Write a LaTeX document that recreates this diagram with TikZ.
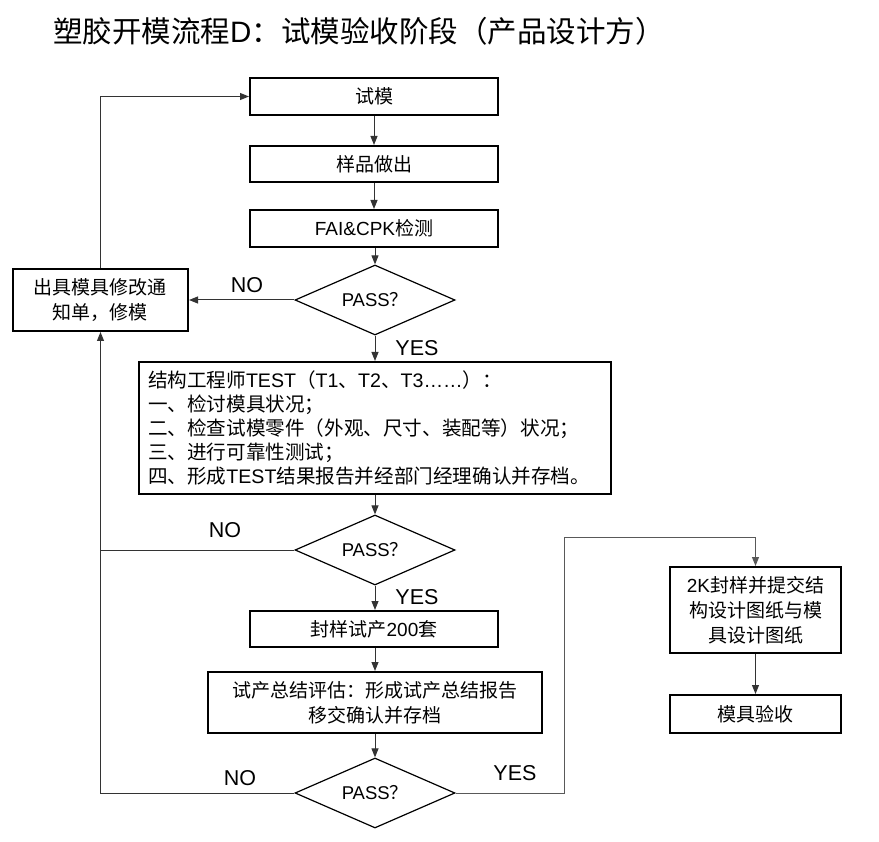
\documentclass[tikz,border=0pt]{standalone}
\usepackage{fontspec}
\setmainfont{Noto Sans CJK SC}
\newfontfamily\lat{Liberation Sans}
\usetikzlibrary{arrows.meta,shapes.geometric}
\begin{document}
\begin{tikzpicture}[x=1pt,y=-1pt,
  box/.style={draw,line width=2pt,rectangle,inner sep=0pt,align=center,
    font=\fontsize{19}{25}\selectfont},
  dia/.style={draw,line width=1.2pt,diamond,aspect=2.3,inner sep=0pt,
    minimum width=160pt,minimum height=70pt,font=\fontsize{18.5}{22}\selectfont},
  conn/.style={line width=1pt,draw=black!80},
  arr/.style={conn,-{Triangle[length=9pt,width=7pt]}},
  lbl/.style={font=\lat\fontsize{21.5}{24}\selectfont,inner sep=0pt}]
\useasboundingbox (0,0) rectangle (879,842);
% title
\node[anchor=west,inner sep=0pt,font=\fontsize{29.5}{32}\selectfont] (title) at (53,31)
  {塑胶开模流程{\lat D}：试模验收阶段（产品设计方）};
% main column
\node[box,minimum width=248pt,minimum height=37pt] (t1) at (374,96.5) {试模};
\node[box,minimum width=248pt,minimum height=36pt] (t2) at (374,164) {样品做出};
\node[box,minimum width=248pt,minimum height=37pt] (t3) at (374,228.5) {{\lat FAI\&CPK}检测};
\node[dia] (d1) at (375,300) {{\lat PASS}？};
\node[box,minimum width=175pt,minimum height=62pt] (L) at (100.5,300)
  {出具模具修改通\\知单，修模};
\node[box,minimum width=472pt,minimum height=132pt,align=left,text width=454pt,
  font=\fontsize{19.6}{24}\selectfont] (big) at (375,428)
  {结构工程师{\lat TEST}（{\lat T1}、{\lat T2}、{\lat T3……}）：\\
   一、检讨模具状况；\\
   二、检查试模零件（外观、尺寸、装配等）状况；\\
   三、进行可靠性测试；\\
   四、形成{\lat TEST}结果报告并经部门经理确认并存档。};
\node[dia] (d2) at (375,550) {{\lat PASS}？};
\node[box,minimum width=248pt,minimum height=36pt] (t4) at (374,629) {封样试产{\lat 200}套};
\node[box,minimum width=334pt,minimum height=61pt] (t5) at (375,702.5)
  {试产总结评估：形成试产总结报告\\移交确认并存档};
\node[dia] (d3) at (375,793) {{\lat PASS}？};
% right column
\node[box,minimum width=171pt,minimum height=86pt] (r1) at (755.5,610)
  {{\lat 2K}封样并提交结\\构设计图纸与模\\具设计图纸};
\node[box,minimum width=171pt,minimum height=38pt] (r2) at (755.5,714) {模具验收};
\coordinate (c1) at (564,537);
% connectors
\draw[arr] (t1) -- (t2);
\draw[arr] (t2) -- (t3);
\draw[arr] (t3.south -| d1.north) -- (d1.north);
\draw[arr] (d1.south) -- (d1.south |- big.north);
\draw[arr] (big.south -| d2.north) -- (d2.north);
\draw[arr] (d2.south) -- (d2.south |- t4.north);
\draw[arr] (t4.south -| t5.north) -- (t5.north);
\draw[arr] (t5.south -| d3.north) -- (d3.north);
\draw[arr] (d1.west) -- (L.east);
\draw[arr] (L.north) |- (t1.west);
\draw[arr] (d3.west) -| (L.south);
\draw[conn] (d2.west) -- (d2.west -| L.south);
\draw[arr,draw=black!65] (d3.east) -| (c1) -| (r1.north);
\draw[arr] (r1) -- (r2);
% labels
\node[lbl] (no1) at (247,285) {NO};
\node[lbl] (yes1) at (417,348) {YES};
\node[lbl] (no2) at (225,530) {NO};
\node[lbl] (yes2) at (417,597) {YES};
\node[lbl] (no3) at (240,778) {NO};
\node[lbl] (yes3) at (515,773) {YES};
\end{tikzpicture}
\end{document}
